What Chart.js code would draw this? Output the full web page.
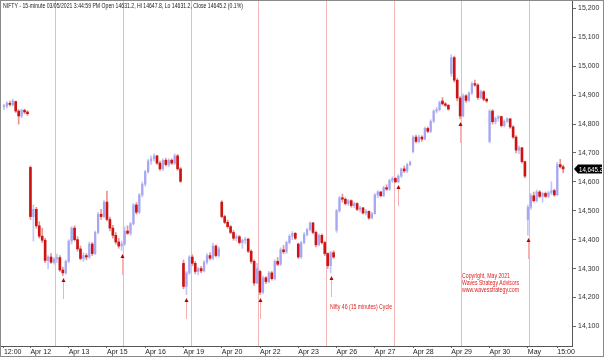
<!DOCTYPE html>
<html><head><meta charset="utf-8">
<script src="https://cdn.jsdelivr.net/npm/chart.js@4.4.0/dist/chart.umd.min.js"></script>
<style>html,body{margin:0;padding:0;background:#fff;overflow:hidden}#wrap{width:604px;height:357px}</style>
</head><body><div id="wrap"><canvas id="c" width="604" height="357"></canvas></div>
<script>
// 30-minute bars (each covers two 15-minute bars), Apr 9 (late morning) to May 3 15:30
const opens = [
14860,14862,14872,14866,14878,14845,14828,14848,14842,
14650,14480,14505,14448,14412,14398,14328,14340,14322,14333,14338,14295,14285,
14325,14395,14440,14400,14368,14335,14345,14340,14385,14352,14425,14488,14480,
14530,14470,14440,14415,14392,14378,14385,14430,14422,14455,14520,14495,14555,
14592,14635,14672,14680,14690,14665,14645,14675,14660,14675,14665,14690,14645,
14318,14238,14285,14340,14318,14290,14300,14292,14322,14345,14336,14378,14345,
14530,14480,14460,14445,14425,14405,14410,14390,14398,14402,14360,14325,14250,
14290,14218,14268,14255,14285,14265,14325,14315,14365,14358,14390,14412,14422,
14385,14340,14390,14418,14435,14458,14425,14382,14415,14390,14352,14310,14355,
14433,14500,14545,14540,14525,14535,14518,14525,14505,14510,14492,14498,14475,
14490,14555,14565,14552,14580,14575,14605,14612,14600,14620,14645,14638,14660,
14705,14755,14740,14755,14748,14785,14775,14810,14845,14850,14880,14870,14865,
14975,15030,14952,14890,14828,14898,14882,14908,14940,14935,14892,14912,14886,
14740,14845,14808,14820,14826,14795,14810,14818,14790,14755,14710,14718,14670,
14470,14512,14552,14535,14565,14550,14560,14550,14562,14570,14555,14660,14652];
const highs = [
14868,14878,14880,14886,14880,14850,14852,14852,14846,
14655,14520,14512,14462,14440,14405,14345,14352,14338,14350,14345,14305,14330,
14400,14445,14448,14410,14378,14355,14352,14392,14390,14430,14495,14505,14535,
14568,14478,14450,14425,14405,14395,14445,14448,14460,14525,14528,14560,14600,
14640,14678,14690,14697,14692,14672,14680,14682,14680,14680,14697,14695,14650,
14330,14290,14345,14348,14325,14305,14308,14328,14352,14355,14388,14382,14375,
14535,14485,14468,14450,14432,14418,14415,14402,14408,14405,14365,14330,14318,
14295,14275,14272,14290,14290,14330,14338,14372,14380,14395,14418,14428,14425,
14388,14395,14425,14440,14462,14460,14430,14420,14420,14395,14355,14360,14362,
14505,14550,14558,14545,14540,14538,14530,14528,14515,14512,14505,14500,14495,
14560,14570,14568,14585,14590,14610,14618,14615,14625,14648,14655,14665,14672,
14760,14762,14762,14760,14790,14790,14815,14850,14858,14880,14892,14875,14868,
15040,15035,14958,14895,14905,14902,14912,14945,14952,14940,14918,14916,14890,
14850,14850,14825,14830,14828,14815,14822,14820,14795,14760,14725,14720,14672,
14520,14560,14565,14572,14570,14565,14565,14568,14600,14575,14668,14678,14658];
const lows = [
14850,14855,14862,14862,14840,14800,14822,14836,14830,
14470,14395,14440,14405,14390,14320,14300,14318,14315,14320,14290,14276,14280,
14320,14385,14395,14360,14330,14325,14330,14335,14345,14348,14420,14470,14475,
14465,14430,14405,14385,14370,14362,14380,14418,14415,14450,14488,14490,14548,
14585,14630,14660,14672,14660,14640,14640,14655,14652,14660,14660,14640,14598,
14230,14210,14280,14310,14282,14278,14285,14288,14315,14330,14330,14340,14340,
14475,14455,14440,14420,14398,14395,14385,14370,14385,14355,14318,14242,14248,
14210,14212,14248,14250,14260,14260,14310,14310,14352,14352,14385,14400,14400,
14335,14335,14385,14412,14430,14420,14375,14378,14385,14345,14300,14285,14335,
14425,14495,14530,14520,14518,14512,14510,14500,14495,14488,14485,14470,14472,
14488,14545,14548,14548,14570,14570,14598,14598,14598,14615,14632,14632,14655,
14700,14735,14735,14740,14745,14770,14770,14805,14838,14845,14865,14860,14848,
14965,14945,14880,14818,14825,14875,14878,14902,14930,14885,14888,14880,14875,
14735,14800,14800,14810,14790,14790,14805,14785,14750,14700,14698,14665,14615,
14416,14505,14530,14530,14545,14530,14545,14545,14555,14550,14552,14648,14631];
const closes = [
14862,14872,14868,14880,14845,14828,14848,14842,14836,
14480,14505,14448,14412,14398,14328,14340,14322,14333,14338,14295,14285,14325,
14395,14440,14400,14368,14335,14345,14340,14385,14352,14425,14488,14480,14530,
14470,14440,14415,14392,14378,14385,14430,14422,14455,14520,14495,14555,14592,
14635,14672,14680,14690,14665,14645,14675,14660,14675,14665,14690,14645,14602,
14238,14285,14340,14318,14290,14300,14292,14322,14345,14336,14378,14345,14368,
14480,14460,14445,14425,14405,14410,14390,14398,14402,14360,14325,14250,14300,
14218,14268,14255,14285,14265,14325,14315,14365,14358,14390,14412,14422,14405,
14340,14390,14418,14435,14458,14425,14382,14415,14390,14352,14310,14355,14340,
14500,14545,14540,14525,14535,14518,14525,14505,14510,14492,14498,14475,14490,
14555,14565,14552,14580,14575,14605,14612,14600,14620,14645,14638,14660,14668,
14755,14740,14755,14748,14785,14775,14810,14845,14850,14875,14870,14865,14852,
15030,14952,14890,14828,14898,14882,14908,14940,14935,14892,14912,14886,14880,
14845,14808,14820,14826,14795,14810,14818,14790,14755,14710,14718,14670,14620,
14512,14552,14535,14565,14550,14560,14550,14562,14570,14555,14660,14652,14645];

const cycleBars = [17.4, 40.4, 63.4, 86.4, 109.4, 132.4, 155.4, 178.4];
const lowArrowBars = [20, 40, 62, 87, 111, 134, 155, 178];
const xTickPos = [0, 9, 22, 35, 48, 61, 74, 87, 100, 113, 126, 139, 152, 165, 178, 188];
const xTickLabels = ['12:00','Apr 12','Apr 13','Apr 15','Apr 16','Apr 19','Apr 20','Apr 22','Apr 23','Apr 26','Apr 27','Apr 28','Apr 29','Apr 30','May','15:00'];
const yTicks = [14100,14200,14300,14400,14500,14600,14700,14800,14900,15000,15100,15200];
const lastPrice = 14645.2;
const titleText = 'NIFTY - 15-minute 03/05/2021 3:44:59 PM Open 14631.2, Hi 14647.8, Lo 14631.2, Close 14645.2 (0.1%)';
const cycleNote = 'Nifty 46 (15 minutes) Cycle';
const copyrightLines = ['Copyright, May 2021', 'Waves Strategy Advisors', 'www.wavesstrategy.com'];

const FONT = '"Liberation Sans", Arial, sans-serif';
const upBody = '#a6a6f2', downBody = '#cc1414', upWick = '#c6c6f6', downWick = '#e89494';
const idx = opens.map((o, i) => i);
const upIdx = idx.filter(i => closes[i] >= opens[i]);
const downIdx = idx.filter(i => closes[i] < opens[i]);

function fitText(ctx, text, x, y, targetW, size, color) {
  ctx.save();
  ctx.font = size + 'px ' + FONT;
  ctx.fillStyle = color;
  ctx.textBaseline = 'alphabetic';
  ctx.textAlign = 'left';
  const w = ctx.measureText(text).width;
  ctx.translate(x, y);
  ctx.scale(targetW / w, 1);
  ctx.fillText(text, 0, 0);
  ctx.restore();
}

const decorPlugin = {
  id: 'decor',
  beforeDraw(chart) {
    const ctx = chart.ctx;
    ctx.save();
    ctx.fillStyle = '#fff';
    ctx.fillRect(0, 0, chart.width, chart.height);
    ctx.restore();
  },
  beforeDatasetsDraw(chart) {
    const {ctx, chartArea: a, scales: {x}} = chart;
    ctx.save();
    ctx.strokeStyle = 'rgba(240,172,172,0.85)';
    ctx.lineWidth = 1;
    cycleBars.forEach(b => {
      const px = Math.round(x.getPixelForValue(b)) + 0.5;
      ctx.beginPath(); ctx.moveTo(px, a.top); ctx.lineTo(px, a.bottom); ctx.stroke();
    });
    ctx.restore();
  },
  afterDatasetsDraw(chart) {
    const {ctx, scales: {x, y}} = chart;
    ctx.save();
    lowArrowBars.forEach(b => {
      const px = Math.round(x.getPixelForValue(b)) + 0.5;
      const py = Math.round(y.getPixelForValue(lows[b])) + 3;
      ctx.strokeStyle = '#f2b0b0';
      ctx.lineWidth = 1;
      ctx.beginPath(); ctx.moveTo(px, py + 4); ctx.lineTo(px, py + 21); ctx.stroke();
      ctx.fillStyle = '#b80000';
      ctx.beginPath(); ctx.moveTo(px, py); ctx.lineTo(px - 2, py + 4); ctx.lineTo(px + 2, py + 4); ctx.closePath(); ctx.fill();
    });
    ctx.restore();
  },
  afterDraw(chart) {
    const {ctx, scales: {y}, chartArea: a} = chart;
    fitText(ctx, titleText, 3, 8, 240, 7, '#222');
    fitText(ctx, cycleNote, 330, 309, 62, 7, '#e02020');
    fitText(ctx, copyrightLines[0], 462, 278, 48, 6.5, '#e02020');
    fitText(ctx, copyrightLines[1], 462, 285, 57, 6.5, '#e02020');
    fitText(ctx, copyrightLines[2], 462, 291.5, 57, 6.5, '#e02020');
    const py = Math.round(y.getPixelForValue(lastPrice));
    const x0 = a.right + 2;
    ctx.save();
    ctx.fillStyle = '#000';
    ctx.beginPath();
    ctx.moveTo(x0, py);
    ctx.lineTo(x0 + 4, py - 4.5);
    ctx.lineTo(602, py - 4.5);
    ctx.lineTo(602, py + 4.5);
    ctx.lineTo(x0 + 4, py + 4.5);
    ctx.closePath();
    ctx.fill();
    ctx.restore();
    ctx.save();
    ctx.beginPath(); ctx.rect(x0, py - 5, 602 - x0, 10); ctx.clip();
    fitText(ctx, lastPrice.toLocaleString('en-US', {minimumFractionDigits: 1}), x0 + 5, py + 2.5, 24, 6.5, '#fff');
    ctx.restore();
    ctx.save();
    ctx.strokeStyle = '#8a8a8a';
    ctx.lineWidth = 1;
    ctx.strokeRect(0.5, 0.5, chart.width - 1, chart.height - 1);
    ctx.restore();
  }
};

Chart.defaults.font.family = FONT;
Chart.defaults.font.size = 7;

new Chart(document.getElementById('c'), {
  type: 'bar',
  data: {
    datasets: [
      {
        label: 'up range',
        data: upIdx.map(i => ({x: i, y: [lows[i], highs[i]]})),
        backgroundColor: upWick, barThickness: 1, grouped: false, borderWidth: 0, order: 4
      },
      {
        label: 'down range',
        data: downIdx.map(i => ({x: i, y: [lows[i], highs[i]]})),
        backgroundColor: downWick, barThickness: 1, grouped: false, borderWidth: 0, order: 3
      },
      {
        label: 'up body',
        data: upIdx.map(i => ({x: i, y: [opens[i], closes[i]]})),
        backgroundColor: upBody, barThickness: 1.6, grouped: false, borderWidth: 0, minBarLength: 1, order: 2
      },
      {
        label: 'down body',
        data: downIdx.map(i => ({x: i, y: [opens[i], closes[i]]})),
        backgroundColor: downBody, barThickness: 2, grouped: false, borderWidth: 0, minBarLength: 1, order: 1
      }
    ]
  },
  options: {
    responsive: false,
    animation: false,
    devicePixelRatio: 1,
    layout: {padding: {left: 1, top: 1, right: 1, bottom: 1}},
    plugins: {legend: {display: false}, tooltip: {enabled: false}},
    scales: {
      x: {
        type: 'linear', min: -1, max: 193, offset: false,
        afterBuildTicks: s => { s.ticks = xTickPos.map(v => ({value: v})); },
        afterFit: s => { s.height = 10; s.paddingLeft = 0; s.paddingRight = 0; },
        grid: {drawOnChartArea: false, drawTicks: true, tickLength: 2, color: '#666', offset: false},
        border: {display: true, color: '#555'},
        ticks: {autoSkip: false, maxRotation: 0, minRotation: 0, align: 'start', padding: 0, color: '#222',
          font: {size: 7, family: FONT}, callback: (v, i) => xTickLabels[i]}
      },
      y: {
        type: 'linear', position: 'right', min: 14032, max: 15226,
        afterBuildTicks: s => { s.ticks = yTicks.map(v => ({value: v})); },
        afterFit: s => { s.width = 31; s.paddingTop = 0; s.paddingBottom = 0; },
        grid: {drawOnChartArea: false, drawTicks: true, tickLength: 4, color: '#666'},
        border: {display: true, color: '#555'},
        ticks: {padding: 2, color: '#333', font: {size: 7, family: FONT},
          callback: v => v.toLocaleString('en-US')}
      }
    }
  },
  plugins: [decorPlugin]
});
</script>
</body></html>
